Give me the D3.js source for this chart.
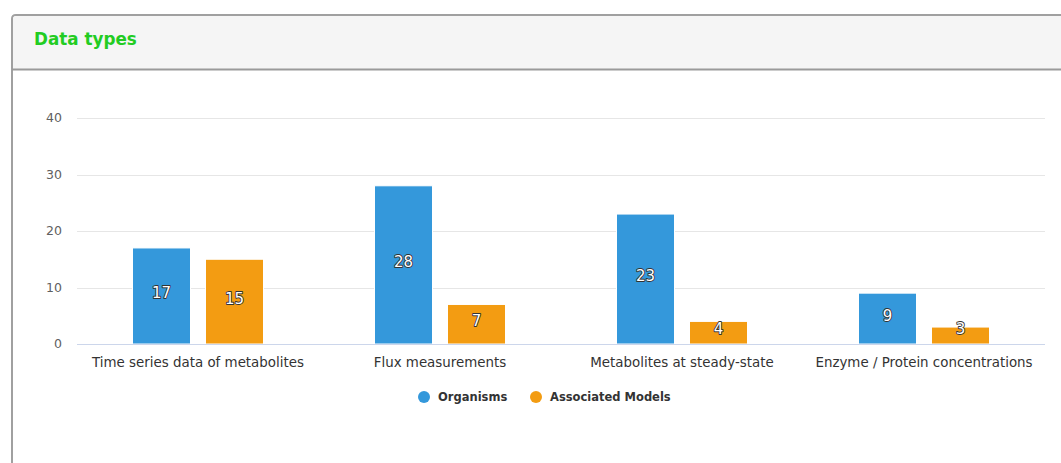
<!DOCTYPE html>
<html><head><meta charset="utf-8">
<script src="https://cdn.jsdelivr.net/npm/d3@7/dist/d3.min.js"></script>
<style>
html,body{margin:0;padding:0;background:#fff;overflow:hidden;}
svg{display:block;}
</style></head>
<body>
<svg id="chart" width="1061" height="463"></svg>
<script>
const title = "Data types";
const categories = ["Time series data of metabolites","Flux measurements","Metabolites at steady-state","Enzyme / Protein concentrations"];
const seriesNames = ["Organisms","Associated Models"];
const organisms = [17, 28, 23, 9];
const associatedModels = [15, 7, 4, 3];
const yTicks = [0, 10, 20, 30, 40];
const colors = ["#3498db", "#f39c12"];

const svg = d3.select("#chart");
const font = "'DejaVu Sans', Verdana, sans-serif";

// panel
svg.append("path")
  .attr("d", "M12,463 L12,19 Q12,15 16,15 L1070,15 L1070,463")
  .attr("fill", "#fff").attr("stroke", "#a0a0a0").attr("stroke-width", 2);
svg.append("path")
  .attr("d", "M13,69 L13,19 Q13,16 16,16 L1070,16 L1070,69 Z")
  .attr("fill", "#f5f5f5");
svg.append("line").attr("x1", 12).attr("x2", 1061).attr("y1", 69.5).attr("y2", 69.5)
  .attr("stroke", "#9a9a9a").attr("stroke-width", 2);
svg.append("text").attr("x", 34).attr("y", 45).text(title)
  .attr("font-family", font).attr("font-weight", "bold").attr("font-size", "16.8px")
  .attr("fill", "#22cc22");

const x0 = d3.scaleBand().domain(categories).range([77, 1045]).paddingInner(0).paddingOuter(0);
const y = d3.scaleLinear().domain([0, 40]).range([344, 118]);
const groupW = 131;

// grid
const g = svg.append("g");
g.selectAll("line.grid").data(yTicks.filter(t => t > 0)).join("line")
  .attr("x1", 77).attr("x2", 1045)
  .attr("y1", d => Math.round(y(d)) + 0.5).attr("y2", d => Math.round(y(d)) + 0.5)
  .attr("stroke", "#e6e6e6").attr("stroke-width", 1);
g.selectAll("text.tick").data(yTicks).join("text")
  .attr("x", 62).attr("y", d => y(d)).attr("dy", "0.35em")
  .attr("text-anchor", "end").attr("font-family", font).attr("font-size", "12.5px")
  .attr("fill", "#606060").text(d => d);

// bars
const seriesVals = [organisms, associatedModels];
const data = [];
categories.forEach((c, i) => seriesNames.forEach((s, j) => data.push({c, s, v: seriesVals[j][i], j})));
const bw = 58;
const bx = d => x0(d.c) + x0.bandwidth()/2 - groupW/2 + (d.j === 0 ? 0 : groupW - bw);
g.selectAll("rect.bar").data(data).join("rect")
  .attr("x", d => bx(d)).attr("width", bw)
  .attr("y", d => y(d.v)).attr("height", d => y(0) - y(d.v))
  .attr("fill", d => colors[d.j]).attr("stroke", "#fff").attr("stroke-width", 1);

// zero line
g.append("line").attr("x1", 77).attr("x2", 1045).attr("y1", 344.5).attr("y2", 344.5)
  .attr("stroke", "#ccd6eb").attr("stroke-width", 1);

// data labels
g.selectAll("text.dl").data(data).join("text")
  .attr("x", d => bx(d) + bw/2)
  .attr("y", d => Math.min((y(d.v) + y(0))/2 - 3, y(0) - 15))
  .attr("dy", "0.35em").attr("text-anchor", "middle")
  .attr("font-family", font).attr("font-size", "15px")
  .attr("fill", "#fff").attr("stroke", "#333").attr("stroke-width", 1.8)
  .attr("paint-order", "stroke").attr("stroke-linejoin", "round")
  .text(d => d.v);

// category labels
g.selectAll("text.cat").data(categories).join("text")
  .attr("x", d => x0(d) + x0.bandwidth()/2).attr("y", 362).attr("dy", "0.35em")
  .attr("text-anchor", "middle").attr("font-family", font).attr("font-size", "13.4px")
  .attr("fill", "#333").text(d => d);

// legend
const legX = [424, 536];
const leg = g.selectAll("g.leg").data(seriesNames).join("g")
  .attr("transform", (d, i) => `translate(${legX[i]},397)`);
leg.append("circle").attr("r", 6).attr("fill", (d, i) => colors[i]);
leg.append("text").attr("x", 14).attr("dy", "0.35em")
  .attr("font-family", font).attr("font-size", "11.5px").attr("font-weight", "bold")
  .attr("fill", "#333").text(d => d);
</script>
</body></html>
